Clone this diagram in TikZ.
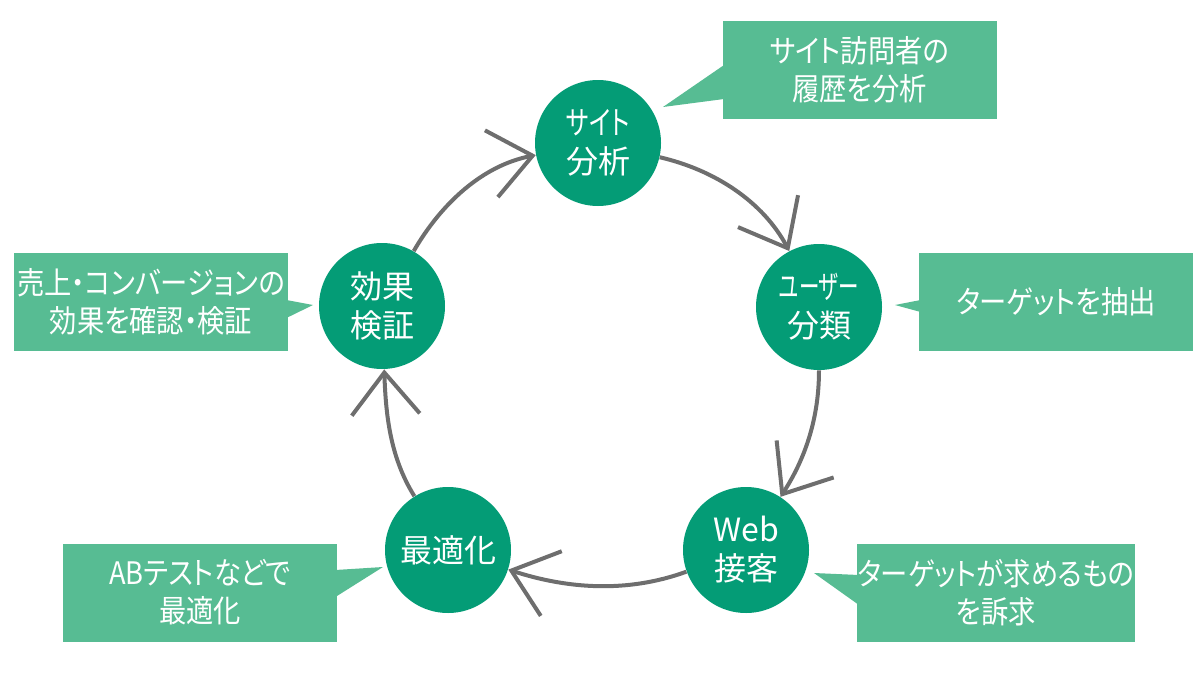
\documentclass[tikz,border=0pt]{standalone}
\usepackage{fontspec}
\setmainfont{Noto Sans CJK JP}[RawFeature=+palt, FakeStretch=0.88]
\newfontfamily\stagefont{Noto Sans CJK JP}[RawFeature=+palt]
\newfontfamily\kanafont{Noto Sans CJK JP}[RawFeature=+palt, FakeStretch=0.76]
\newfontfamily\narrowkana{Noto Sans CJK JP}[RawFeature=+palt, FakeStretch=0.64]
\usetikzlibrary{arrows.meta,calc}
\definecolor{stagegreen}{HTML}{049C76}
\definecolor{memogreen}{HTML}{57BC93}
\definecolor{flowgray}{HTML}{6E6E6E}
\begin{document}
\begin{tikzpicture}
   [
     x                  = 0.5pt,
     y                  = -0.5pt,
     looseness          = 0.9,
     every node/.style  = {text=white, align=center},
     stage/.style       = {circle, fill=stagegreen, minimum size=63pt,
                           inner sep=0pt, font=\stagefont\fontsize{16}{19.5}\selectfont},
     memo/.style        = {rectangle, fill=memogreen, minimum width=137pt,
                           minimum height=49pt, inner sep=0pt,
                           font=\fontsize{15.5}{19}\selectfont},
     pointer/.style     = {fill=memogreen},
     flow/.style        = {draw=flowgray, line width=2pt,
                           -{Straight Barb[length=21pt, width=34pt]}}
   ]
    \useasboundingbox (0,0) rectangle (1200,685);

    \node [stage] (site) at (598,143) {{\kanafont サイト}\\分析};
    \node [stage] (user) at (819,307) {{\narrowkana ユーザー}\\分類};
    \node [stage] (web)  at (746,550) {Web\\接客};
    \node [stage] (opt)  at (448,550) {最適化};
    \node [stage] (eval) at (382,306) {効果\\検証};

    \draw [flow] (site) to [out=-13, in=118] (user);
    \draw [flow] (user) to [out=-90, in=57]  (web);
    \draw [flow] (web)  to [out=200, in=-18] (opt);
    \draw [flow] (opt)  to [out=122, in=-88] (eval);
    \draw [flow] (eval) to [out=60, in=191]  (site);

    \node [memo] (hist)   at (859.5,69.5) {サイト訪問者の\\履歴を分析};
    \node [memo] (target) at (1056,302)   {ターゲットを抽出};
    \node [memo] (appeal) at (996,592.5)  {ターゲットが求めるもの\\を訴求};
    \node [memo] (abtest) at (200,592.5)  {ABテストなどで\\最適化};
    \node [memo] (sales)  at (151,302)    {売上・コンバージョンの\\効果を確認・検証};

    \coordinate (histtip)   at (663,107);
    \coordinate (targettip) at (895,305);
    \coordinate (appealtip) at (814,573);
    \coordinate (abtesttip) at (383,567);
    \coordinate (salestip)  at (313,305);

    \fill [pointer] ($(hist.west)+(2,-4.5)$) -- (histtip) -- ($(hist.west)+(2,29.5)$) -- cycle;
    \fill [pointer] ($(target.west)+(2,-2)$) -- (targettip) -- ($(target.west)+(2,10)$) -- cycle;
    \fill [pointer] ($(appeal.west)+(2,-17.5)$) -- (appealtip) -- ($(appeal.west)+(2,12.5)$) -- cycle;
    \fill [pointer] ($(abtest.east)+(-2,-22.5)$) -- (abtesttip) -- ($(abtest.east)+(-2,4.5)$) -- cycle;
    \fill [pointer] ($(sales.east)+(-2,-2)$) -- (salestip) -- ($(sales.east)+(-2,16)$) -- cycle;
\end{tikzpicture}
\end{document}
